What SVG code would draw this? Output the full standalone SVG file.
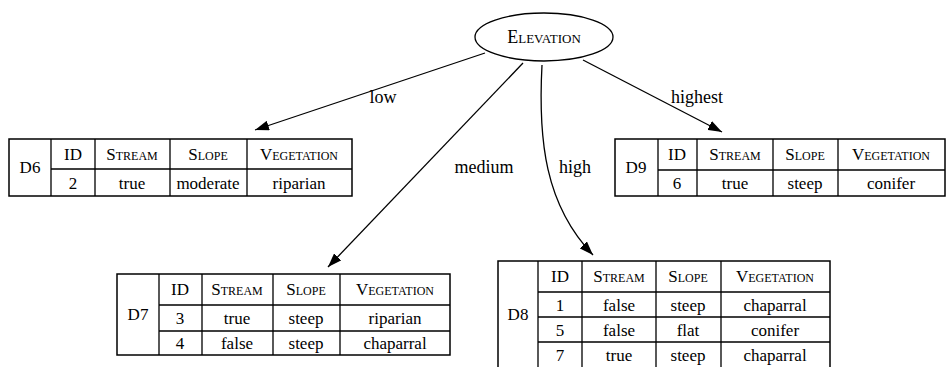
<svg xmlns="http://www.w3.org/2000/svg" width="947" height="367" viewBox="0 0 947 367">
<defs>
<style>
text{font-family:"Liberation Serif","Times New Roman","DejaVu Serif",serif;fill:#000;text-anchor:middle}
.c{font-size:17px}
.h{font-size:17px;font-variant:small-caps}
.big{font-size:18px}
.e{font-size:18px}
.t{fill:#fff;stroke:#000;stroke-width:1.5}
.g{stroke:#000;stroke-width:1.3;fill:none}
.edge{stroke:#000;stroke-width:1.3;fill:none;marker-end:url(#ah)}
</style>
<marker id="ah" viewBox="0 0 14 10" refX="14" refY="5" markerWidth="14" markerHeight="10" markerUnits="userSpaceOnUse" orient="auto">
<path d="M0,0 L14,5 L0,10 Z" fill="#000"/>
</marker>
</defs>
<rect width="947" height="367" fill="#fff"/>
<g id="connectors">
<path class="edge" d="M485,53 L255,130"/>
<path class="edge" d="M523,63 L328,267"/>
<path class="edge" d="M542,65 C538,140 545,205 593,255"/>
<path class="edge" d="M583,60 L722,132"/>
<text class="e" x="383" y="103">low</text>
<text class="e" x="484" y="173">medium</text>
<text class="e" x="575" y="173">high</text>
<text class="e" x="697" y="103">highest</text>
</g>
<g id="elevation">
<ellipse cx="544" cy="37" rx="69" ry="24" fill="#fff" stroke="#000" stroke-width="1.3"/>
<text class="h big" x="544" y="43">Elevation</text>
</g>
<g id="D6">
<rect class="t" x="9" y="139" width="343" height="57"/>
<path class="g" d="M51,139V196M95,139V196M170,139V196M247,139V196M51,169H352"/>
<text class="c" x="30" y="173">D6</text>
<text class="h" x="73" y="160">ID</text>
<text class="h" x="132" y="160">Stream</text>
<text class="h" x="208" y="160">Slope</text>
<text class="h" x="299" y="160">Vegetation</text>
<text class="c" x="73" y="189">2</text>
<text class="c" x="132" y="189">true</text>
<text class="c" x="208" y="189">moderate</text>
<text class="c" x="299" y="189">riparian</text>
</g>
<g id="D9">
<rect class="t" x="615" y="139" width="330" height="57"/>
<path class="g" d="M658,139V196M697,139V196M773,139V196M838,139V196M658,170H945"/>
<text class="c" x="636" y="173">D9</text>
<text class="h" x="677" y="160">ID</text>
<text class="h" x="735" y="160">Stream</text>
<text class="h" x="805" y="160">Slope</text>
<text class="h" x="891" y="160">Vegetation</text>
<text class="c" x="677" y="189">6</text>
<text class="c" x="735" y="189">true</text>
<text class="c" x="805" y="189">steep</text>
<text class="c" x="891" y="189">conifer</text>
</g>
<g id="D7">
<rect class="t" x="117" y="274" width="333" height="81"/>
<path class="g" d="M159,274V355M202,274V355M273,274V355M340,274V355M159,305H450M159,331H450"/>
<text class="c" x="138" y="320">D7</text>
<text class="h" x="180" y="295">ID</text>
<text class="h" x="237" y="295">Stream</text>
<text class="h" x="306" y="295">Slope</text>
<text class="h" x="395" y="295">Vegetation</text>
<text class="c" x="180" y="324">3</text>
<text class="c" x="237" y="324">true</text>
<text class="c" x="306" y="324">steep</text>
<text class="c" x="395" y="324">riparian</text>
<text class="c" x="180" y="349">4</text>
<text class="c" x="237" y="349">false</text>
<text class="c" x="306" y="349">steep</text>
<text class="c" x="395" y="349">chaparral</text>
</g>
<g id="D8">
<rect class="t" x="498" y="261" width="332" height="112"/>
<path class="g" d="M538,261V373M582,261V373M656,261V373M721,261V373M538,292H830M538,317H830M538,342H830"/>
<text class="c" x="518" y="320">D8</text>
<text class="h" x="560" y="282">ID</text>
<text class="h" x="619" y="282">Stream</text>
<text class="h" x="688" y="282">Slope</text>
<text class="h" x="775" y="282">Vegetation</text>
<text class="c" x="560" y="311">1</text>
<text class="c" x="619" y="311">false</text>
<text class="c" x="688" y="311">steep</text>
<text class="c" x="775" y="311">chaparral</text>
<text class="c" x="560" y="336">5</text>
<text class="c" x="619" y="336">false</text>
<text class="c" x="688" y="336">flat</text>
<text class="c" x="775" y="336">conifer</text>
<text class="c" x="560" y="361">7</text>
<text class="c" x="619" y="361">true</text>
<text class="c" x="688" y="361">steep</text>
<text class="c" x="775" y="361">chaparral</text>
</g>
</svg>
